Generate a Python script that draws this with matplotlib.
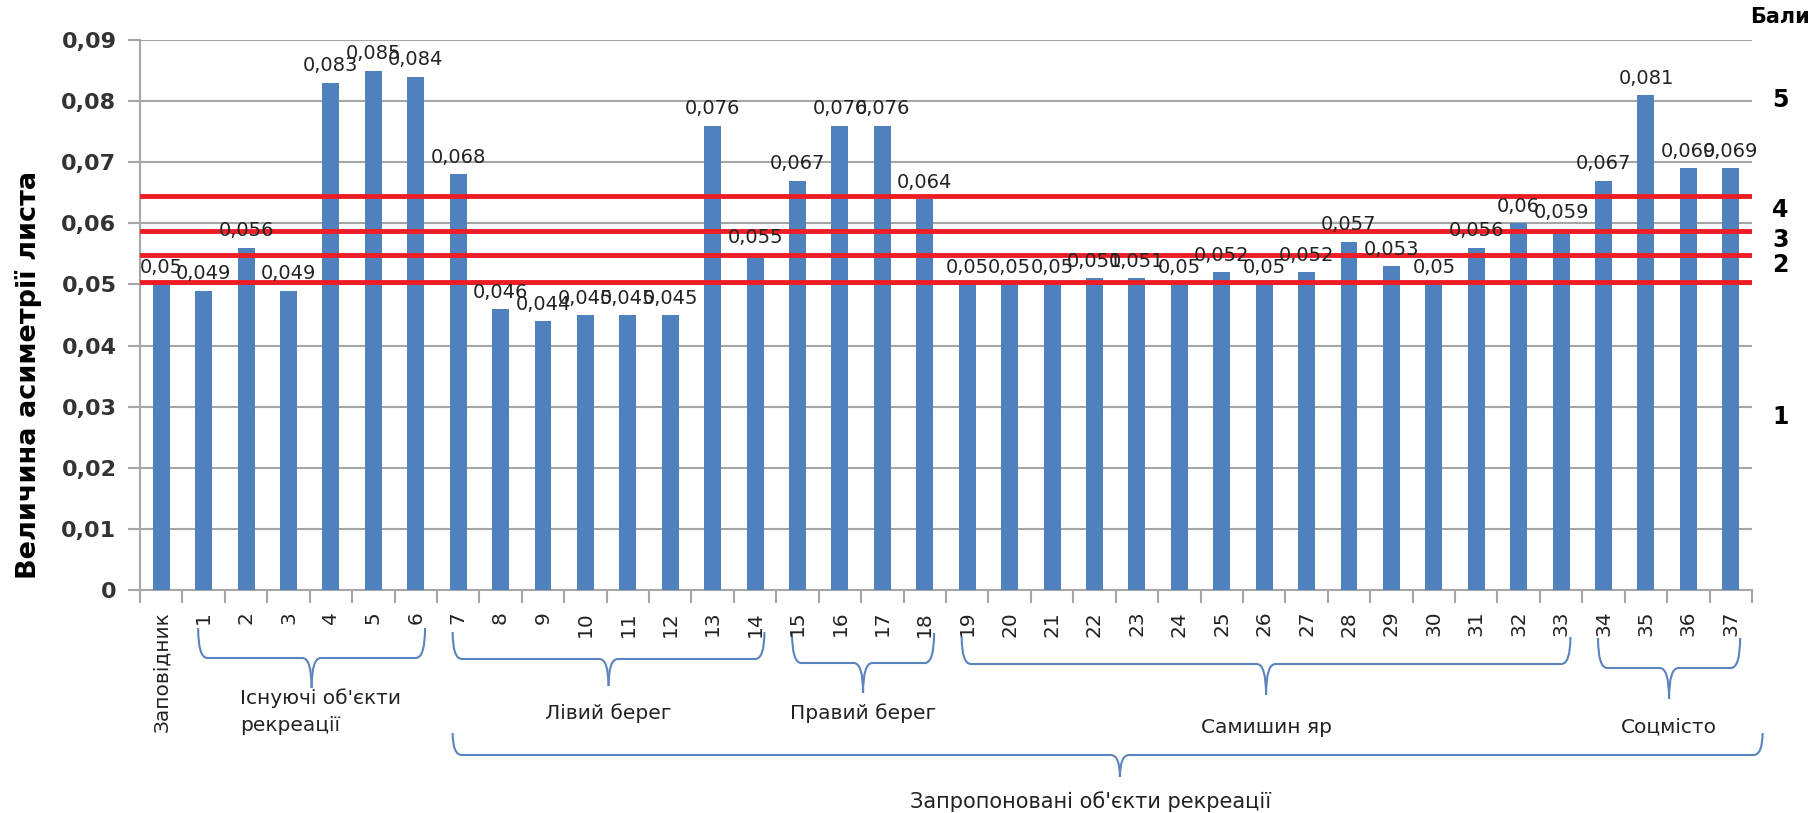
import numpy as np
import matplotlib.pyplot as plt
from matplotlib.path import Path
from matplotlib.patches import PathPatch
from matplotlib.ticker import FuncFormatter

# categories and values
cats = ['Заповідник'] + [str(i) for i in range(1, 38)]
vals = [0.05, 0.049, 0.056, 0.049, 0.083, 0.085, 0.084, 0.068, 0.046, 0.044,
        0.045, 0.045, 0.045, 0.076, 0.055, 0.067, 0.076, 0.076, 0.064, 0.05,
        0.05, 0.05, 0.051, 0.051, 0.05, 0.052, 0.05, 0.052, 0.057, 0.053,
        0.05, 0.056, 0.06, 0.059, 0.067, 0.081, 0.069, 0.069]

# score thresholds (red lines) and score labels on the right
limits = [0.0504, 0.0548, 0.0588, 0.0644]
scores = ['1', '2', '3', '4', '5']
score_y = [417, 265, 240, 210, 100]  # pixel rows of labels

# groups: (first idx, last idx, label)
groups = [(1, 6, "Існуючі об'єкти\nрекреації"),
          (7, 14, 'Лівий берег'),
          (15, 18, 'Правий берег'),
          (19, 33, 'Самишин яр'),
          (34, 37, 'Соцмісто')]

W, H = 1814, 813
fig = plt.figure(figsize=(W/100, H/100), dpi=100)
ax = fig.add_axes([140/W, 1-590/H, (1752-140)/W, 550/H])

x = np.arange(len(cats))
ax.bar(x, vals, width=0.4, color='#4f81bd', zorder=3)
for xi, v in zip(x, vals):
    s = ('%g' % v).replace('.', ',')
    ax.text(xi, v+0.0012, s, ha='center', va='bottom', fontsize=14, color='#222222', zorder=5)

for l in limits:
    ax.axhline(l, color='#ee1c25', lw=3.5, zorder=4)

ax.set_xlim(-0.5, len(cats)-0.5)
ax.set_ylim(0, 0.09)
ax.set_yticks(np.arange(0, 0.0901, 0.01))
ax.yaxis.set_major_formatter(FuncFormatter(lambda v, p: '0' if v == 0 else ('%.2f' % v).replace('.', ',')))
ax.grid(axis='y', color='#a6a6a6', lw=1.5, zorder=0)
for sp in ['top', 'right']:
    ax.spines[sp].set_visible(False)
ax.spines['left'].set_color('#a6a6a6')
ax.spines['bottom'].set_color('#a6a6a6')
ax.spines['left'].set_linewidth(1.5)
ax.spines['bottom'].set_linewidth(1.5)
ax.tick_params(axis='y', length=9, width=1.5, color='#a6a6a6', labelsize=16, pad=8)
for t in ax.get_yticklabels():
    t.set_fontweight('bold')
    t.set_color('#333333')

ax.set_xticks(x)
ax.set_xticklabels(cats, rotation=90, fontsize=14.5, color='#222222')
ax.tick_params(axis='x', length=0, pad=15)
ax.set_xticks(np.arange(-0.5, len(cats), 1), minor=True)
ax.tick_params(axis='x', which='minor', length=9, width=1.5, color='#a6a6a6')

# y label, placed where it sits in the picture (a bit below the axes middle)
fig.text(29/W, 1-375/H, 'Величина асиметрії листа', fontsize=19.5, fontweight='bold',
         rotation=90, ha='center', va='center')

# right score labels
fig.text(1750/W, 1-17/H, 'Бали', fontsize=15, fontweight='bold', va='center', ha='left')
for s, py in zip(scores, score_y):
    fig.text(1772/W, 1-py/H, s, fontsize=17, fontweight='bold', va='center', ha='left')

# braces
tr = ax.get_xaxis_transform()
def ypx(p):
    return (590 - p) / 550.0

def brace(x0, x1, xc, top, mid, tip):
    r = 0.22
    for xe, sgn in [(x0, 1), (x1, -1)]:
        verts = [(xe, ypx(top)), (xe, ypx(mid)), (xe+sgn*r, ypx(mid)),
                 (xc-sgn*r, ypx(mid)), (xc, ypx(mid)), (xc, ypx(tip))]
        codes = [Path.MOVETO, Path.CURVE3, Path.CURVE3,
                 Path.LINETO, Path.CURVE3, Path.CURVE3]
        ax.add_patch(PathPatch(Path(verts, codes), fill=False, ec='#5b84bd', lw=1.5,
                               transform=tr, clip_on=False))

brace_px = [(628, 658, 688), (632, 659, 686), (633, 663, 693), (637, 664, 695), (638, 668, 699)]
label_y = [712, 713, 713, 727, 727]
for (a, b, lab), (top, mid, tip), ly in zip(groups, brace_px, label_y):
    x0, x1 = a - 0.13, b + 0.22
    xc = (x0 + x1) / 2
    brace(x0, x1, xc, top, mid, tip)
    if a == 1:
        ax.text(1.85, ypx(ly), lab, transform=tr, ha='left', va='center', fontsize=14.5,
                linespacing=1.55, color='#222222')
    else:
        ax.text(xc, ypx(ly), lab, transform=tr, ha='center', va='center', fontsize=14.5,
                color='#222222')

# big brace for proposed objects
brace(6.87, 37.75, 22.6, 733, 755, 777)
ax.text(21.9, ypx(802), "Запропоновані об'єкти рекреації", transform=tr, ha='center',
        va='center', fontsize=15, color='#222222')

fig.savefig('out.png', dpi=100)
